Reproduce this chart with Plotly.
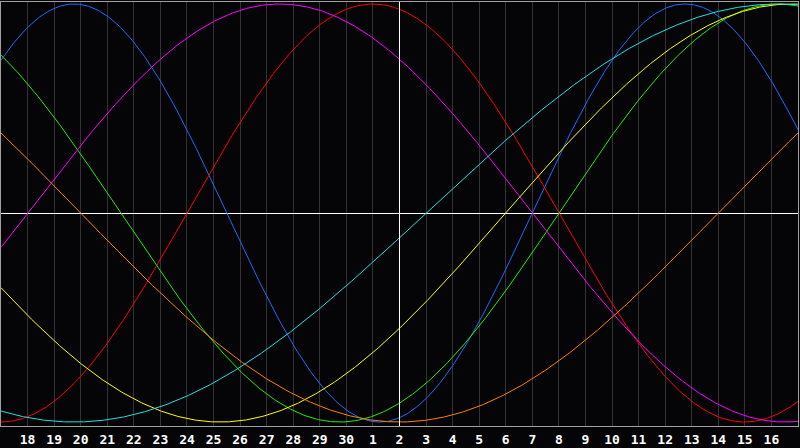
import numpy as np
import plotly.graph_objects as go

# Day labels along the x axis (index 0 .. 30); labels shown at 1..29
day_labels = [17, 18, 19, 20, 21, 22, 23, 24, 25, 26, 27, 28, 29, 30,
              1, 2, 3, 4, 5, 6, 7, 8, 9, 10, 11, 12, 13, 14, 15, 16, 17]
today_index = 15
days_since_birth_at_start = 16149

# Biorhythm cycles (length in days) and colours
cycle_names = ["Physical", "Emotional", "Intellectual", "Intuitive",
               "Aesthetic", "Awareness", "Spiritual"]
cycle_lengths = [23, 28, 33, 38, 43, 48, 53]
cycle_colors = ["#1a6cff", "#ff0000", "#22ee00", "#ff00ff",
                "#ffff00", "#ff8000", "#22e0e0"]

fig = go.Figure()
x = np.linspace(0, len(day_labels) - 1, 601)
for name, period, color in zip(cycle_names, cycle_lengths, cycle_colors):
    y = np.sin(2 * np.pi * (days_since_birth_at_start + x) / period)
    fig.add_trace(go.Scatter(x=x, y=y, mode="lines", name=name,
                             line=dict(color=color, width=1),
                             hoverinfo="skip"))

# centre cross (today)
fig.add_shape(type="line", xref="x", yref="paper", x0=today_index, x1=today_index,
              y0=0, y1=1, line=dict(color="#ffffff", width=1), layer="above")

tickvals = list(range(1, len(day_labels) - 1))
ticktext = [str(day_labels[i]) for i in tickvals]

fig.update_layout(
    width=800, height=448,
    margin=dict(l=1, r=1, t=1, b=20),
    paper_bgcolor="#050508",
    plot_bgcolor="#050508",
    showlegend=False,
    xaxis=dict(range=[0, len(day_labels) - 1], tickvals=tickvals, ticktext=ticktext,
               showgrid=True, gridcolor="#333336", gridwidth=1,
               showline=True, linecolor="#a0a0a0", linewidth=1, mirror=True,
               zeroline=False, ticks="", ticklabelstandoff=1,
               tickfont=dict(family="DejaVu Sans Mono", size=13, color="#ffffff",
                             weight="bold")),
    yaxis=dict(range=[-1.019, 1.0095], showgrid=False, showticklabels=False,
               showline=True, linecolor="#a0a0a0", linewidth=1, mirror=True,
               zeroline=True, zerolinecolor="#ffffff", zerolinewidth=1,
               ticks=""),
)

fig.write_html("out.html",
               config={"displayModeBar": False},
               post_script="document.body.style.margin='0';"
                           "document.body.style.overflow='hidden';"
                           "document.body.style.background='#050508';")
